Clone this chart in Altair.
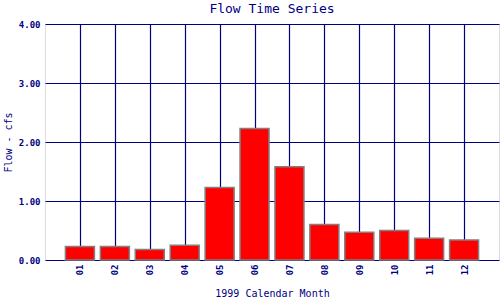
import altair as alt
import pandas as pd

months = [1, 2, 3, 4, 5, 6, 7, 8, 9, 10, 11, 12]
month_labels = ["01", "02", "03", "04", "05", "06", "07", "08", "09", "10", "11", "12"]
flows = [0.23, 0.23, 0.18, 0.25, 1.23, 2.23, 1.58, 0.60, 0.47, 0.50, 0.37, 0.34]

df = pd.DataFrame({"month": months, "label": month_labels, "flow": flows})

NAVY = "#000080"
FONT = "DejaVu Sans Mono"

chart = alt.Chart(df).mark_bar(
    color="#ff0000", stroke="#808080", strokeWidth=1.5, width=29
).encode(
    x=alt.X("month:Q",
            scale=alt.Scale(domain=[0, 13], nice=False, zero=False, padding=0),
            axis=alt.Axis(values=months, labelExpr="datum.value < 10 ? '0' + datum.value : '' + datum.value",
                          labelAngle=-90, labelFont=FONT, labelFontSize=9, labelFontWeight="bold",
                          labelColor=NAVY, labelPadding=4, ticks=False, domain=False,
                          grid=True, gridColor=NAVY, gridWidth=1.2, gridOpacity=1,
                          title="1999 Calendar Month", titleFont=FONT, titleFontSize=10,
                          titleFontWeight="normal", titleColor=NAVY, titlePadding=14)),
    y=alt.Y("flow:Q",
            scale=alt.Scale(domain=[0, 4], nice=False, padding=0),
            axis=alt.Axis(values=[0, 1, 2, 3, 4], format=".2f",
                          labelFont=FONT, labelFontSize=9, labelFontWeight="bold",
                          labelColor=NAVY, labelPadding=5, ticks=False, domain=False,
                          grid=True, gridColor=NAVY, gridWidth=1.2, gridOpacity=1,
                          title="Flow - cfs", titleFont=FONT, titleFontSize=10,
                          titleFontWeight="normal", titleColor=NAVY, titlePadding=5)),
).properties(
    width=454, height=236,
    autosize=alt.AutoSizeParams(type="none"),
    padding={"left": 45, "top": 24, "right": 1, "bottom": 40},
    title=alt.TitleParams("Flow Time Series", font=FONT, fontSize=13, fontWeight="normal",
                          color=NAVY, anchor="middle", offset=4),
).configure_view(
    stroke=NAVY, strokeWidth=1.5
).configure(background="white")

chart.save("out.html", embed_options={"renderer": "svg", "actions": False})
